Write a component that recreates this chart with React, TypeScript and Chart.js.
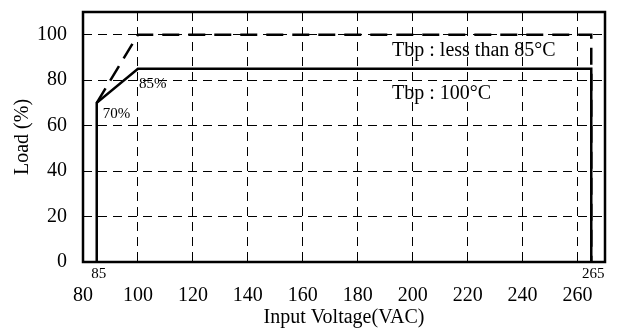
import React, { useEffect, useRef } from 'react';
import { Chart, registerables } from 'chart.js';
Chart.register(...registerables);

// Tbp : 100°C (solid)
const solidX = [85, 85, 100, 265, 265];
const solidY = [0, 70, 85, 85, 0];
// Tbp : less than 85°C (dashed)
const dashX = [85, 100, 265, 265];
const dashY = [70, 100, 100, 0];

const xTicks = [80, 100, 120, 140, 160, 180, 200, 220, 240, 260];
const yTicks = [0, 20, 40, 60, 80, 100];
const xRange = [80, 270];
const yRange = [0, 110];

const notes = [
  { text: '70%', x: 87.2, y: 63.4, size: 15 },
  { text: '85%', x: 100.4, y: 76.6, size: 15 },
  { text: 'Tbp : less than 85°C', x: 192.5, y: 90.8, size: 20 },
  { text: 'Tbp : 100°C', x: 192.5, y: 71.7, size: 20 },
];
const axisMarks = [85, 265];

const FONT = "'Liberation Serif', 'Times New Roman', serif";

export default function App() {
  const ref = useRef<HTMLCanvasElement | null>(null);
  useEffect(() => {
    if (!ref.current) return;
    const overlay = {
      id: 'overlay',
      afterDraw(chart: any) {
        const { ctx, chartArea, scales } = chart;
        const xs = scales.x;
        const ys = scales.y;
        ctx.save();
        ctx.strokeStyle = '#000';
        ctx.lineWidth = 2.5;
        ctx.setLineDash([]);
        ctx.strokeRect(chartArea.left, chartArea.top, chartArea.right - chartArea.left, chartArea.bottom - chartArea.top);
        ctx.fillStyle = '#000';
        ctx.textBaseline = 'alphabetic';
        ctx.textAlign = 'left';
        for (const n of notes) {
          ctx.font = `${n.size}px ${FONT}`;
          ctx.fillText(n.text, xs.getPixelForValue(n.x), ys.getPixelForValue(n.y));
        }
        ctx.font = `15px ${FONT}`;
        ctx.textAlign = 'center';
        for (const m of axisMarks) {
          ctx.fillText(String(m), xs.getPixelForValue(m) + 2, chartArea.bottom + 16);
        }
        ctx.restore();
      },
    };
    const chart = new Chart(ref.current, {
      type: 'line',
      data: {
        datasets: [
          {
            label: 'Tbp : 100°C',
            data: solidX.map((x, i) => ({ x, y: solidY[i] })),
            borderColor: '#000',
            borderWidth: 2.5,
            pointRadius: 0,
            tension: 0,
          },
          {
            label: 'Tbp : less than 85°C',
            data: dashX.map((x, i) => ({ x, y: dashY[i] })),
            borderColor: '#000',
            borderWidth: 2.5,
            borderDash: [17, 9],
            pointRadius: 0,
            tension: 0,
          },
        ],
      },
      options: {
        animation: false,
        responsive: false,
        maintainAspectRatio: false,
        layout: { padding: { top: 12, right: 12, left: 0, bottom: 0 } },
        plugins: { legend: { display: false }, tooltip: { enabled: false } },
        scales: {
          x: {
            type: 'linear',
            min: xRange[0],
            max: xRange[1],
            afterBuildTicks: (s: any) => { s.ticks = xTicks.map((v) => ({ value: v })); },
            afterFit: (s: any) => { s.height = 67; s.paddingLeft = 0; s.paddingRight = 0; },
            ticks: { color: '#000', font: { family: FONT, size: 20 }, padding: 22, maxRotation: 0, autoSkip: false },
            grid: { color: '#000', lineWidth: 1, drawTicks: false },
            border: { display: false, dash: [9, 6] },
            title: { display: true, text: 'Input Voltage(VAC)', color: '#000', font: { family: FONT, size: 20, lineHeight: 1 }, padding: { top: 0, bottom: 1 } },
          },
          y: {
            type: 'linear',
            min: yRange[0],
            max: yRange[1],
            afterBuildTicks: (s: any) => { s.ticks = yTicks.map((v) => ({ value: v })); },
            afterFit: (s: any) => { s.width = 83; s.paddingTop = 0; s.paddingBottom = 0; },
            ticks: { color: '#000', font: { family: FONT, size: 20 }, padding: 16 },
            grid: { color: '#000', lineWidth: 1, drawTicks: false },
            border: { display: false, dash: [9, 6] },
            title: { display: true, text: 'Load (%)', color: '#000', font: { family: FONT, size: 20, lineHeight: 1 }, padding: { top: 13, bottom: 0 } },
          },
        },
      },
      plugins: [overlay],
    });
    return () => chart.destroy();
  }, []);
  return (
    <div style={{ position: 'absolute', left: 0, top: 0, width: 617, height: 329, background: '#fff' }}>
      <canvas ref={ref} width={617} height={329} style={{ width: 617, height: 329, display: 'block' }} />
    </div>
  );
}
